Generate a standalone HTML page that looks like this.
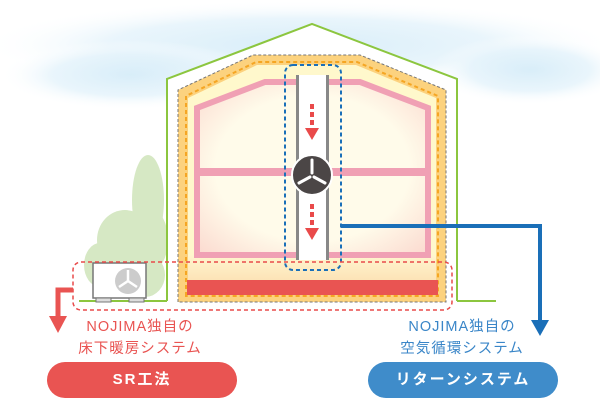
<!DOCTYPE html>
<html><head><meta charset="utf-8"><style>
html,body{margin:0;padding:0;background:#fff}
body{width:600px;height:400px;overflow:hidden;position:relative;font-family:"Liberation Sans","Noto Sans CJK JP",sans-serif}
.t{position:absolute;text-align:center;font-size:14.5px;line-height:22px;letter-spacing:1px}
.pill{position:absolute;height:36px;border-radius:18px;color:#fff;font-size:15px;font-weight:bold;text-align:center;line-height:36px;letter-spacing:2px}
</style></head><body>
<svg width="600" height="400" style="position:absolute;left:0;top:0">
<defs>
<radialGradient id="sky" cx="50%" cy="50%" r="50%"><stop offset="0" stop-color="#cfe9f7"/><stop offset="0.6" stop-color="#e4f3fb"/><stop offset="1" stop-color="#fff" stop-opacity="0"/></radialGradient>
<linearGradient id="floor" x1="0" y1="0" x2="0" y2="1"><stop offset="0" stop-color="#fff6cf"/><stop offset="1" stop-color="#fbd8a8"/></linearGradient>
<radialGradient id="room" cx="50%" cy="50%" r="70%"><stop offset="0.6" stop-color="#fffbea"/><stop offset="1" stop-color="#fbd9cf"/></radialGradient>
</defs>
<ellipse cx="300" cy="45" rx="320" ry="45" fill="url(#sky)" opacity="0.8"/>
<ellipse cx="130" cy="75" rx="130" ry="35" fill="url(#sky)" opacity="0.8"/>
<ellipse cx="530" cy="70" rx="100" ry="35" fill="url(#sky)" opacity="0.8"/>
<!-- tree -->
<g fill="#d6e8c4">
<ellipse cx="148" cy="200" rx="16" ry="45"/><ellipse cx="125" cy="240" rx="28" ry="30"/><ellipse cx="152" cy="240" rx="16" ry="30"/><ellipse cx="100" cy="265" rx="16" ry="22"/><ellipse cx="145" cy="275" rx="20" ry="22"/>
</g>
<!-- house outline -->
<polygon points="167,300 167,79 312,24 457,79 457,300" fill="#fff"/>
<polyline points="167,301 167,79 312,24 457,79 457,301" fill="none" stroke="#8cc63f" stroke-width="2"/>
<line x1="79" y1="301" x2="167" y2="301" stroke="#8cc63f" stroke-width="2"/>
<line x1="457" y1="301" x2="496" y2="301" stroke="#8cc63f" stroke-width="2"/>
<!-- insulation -->
<polygon points="178,302 178,90 253,55 360,55 446,90 446,302" fill="#fcd27e" stroke="#777" stroke-width="1" stroke-dasharray="3,2"/>
<polygon points="186,296 186,96 256,62 357,62 438,96 438,296" fill="none" stroke="#f5a623" stroke-width="2" stroke-dasharray="4,3"/>
<polygon points="188,294 188,98 257,65 356,65 436,98 436,294" fill="#fff8cc"/>
<rect x="188" y="255" width="248" height="40" fill="url(#floor)"/>
<!-- pink frame -->
<polygon points="197,255 197,108 265,82 360,82 428,108 428,255" fill="url(#room)" stroke="#f0a0b4" stroke-width="6"/>
<rect x="197" y="168" width="231" height="8" fill="#f0a0b4"/>
<rect x="187" y="280" width="251" height="15" fill="#e95452"/>
<!-- duct -->
<rect x="297" y="75" width="31" height="185" fill="#fff"/>
<rect x="296" y="75" width="3" height="185" fill="#888"/>
<rect x="326" y="75" width="3" height="185" fill="#888"/>
<rect x="285" y="65" width="56" height="205" rx="8" fill="none" stroke="#1a6fb8" stroke-width="2" stroke-dasharray="4,3"/>
<g stroke="#e94a4a" stroke-width="4" stroke-dasharray="5,3"><line x1="312" y1="104" x2="312" y2="128"/><line x1="312" y1="204" x2="312" y2="228"/></g>
<polygon points="305,128 319,128 312,140" fill="#e94a4a"/>
<polygon points="305,228 319,228 312,240" fill="#e94a4a"/>
<circle cx="312" cy="175" r="20" fill="#4b4646" stroke="#fff" stroke-width="2"/>
<g stroke="#fff" stroke-width="3" stroke-linecap="round"><line x1="312" y1="173" x2="312" y2="160"/><line x1="310" y1="177" x2="299" y2="183"/><line x1="314" y1="177" x2="325" y2="183"/></g>
<!-- blue line -->
<polyline points="341,226 540,226 540,322" fill="none" stroke="#1a6fb8" stroke-width="4"/>
<polygon points="531,320 549,320 540,336" fill="#1a6fb8"/>
<!-- AC -->
<rect x="93" y="263" width="53" height="35" fill="#fff" stroke="#777" stroke-width="1.5"/>
<rect x="96" y="298" width="15" height="4" fill="#ddd" stroke="#777"/><rect x="129" y="298" width="15" height="4" fill="#ddd" stroke="#777"/>
<circle cx="128" cy="281" r="13" fill="#ccc"/>
<g stroke="#fff" stroke-width="2.5"><line x1="128" y1="281" x2="128" y2="270"/><line x1="128" y1="281" x2="119" y2="287"/><line x1="128" y1="281" x2="137" y2="287"/></g>
<!-- red dashed box -->
<rect x="73" y="262" width="379" height="48" rx="8" fill="none" stroke="#e94a4a" stroke-width="1.5" stroke-dasharray="4,3"/>
<polyline points="73,290 58,290 58,318" fill="none" stroke="#e95452" stroke-width="5"/>
<polygon points="49,316 67,316 58,333" fill="#e95452"/>
</svg>
<div class="t" style="left:40px;top:316px;width:200px;color:#e95452">NOJIMA独自の<br>床下暖房システム</div>
<div class="t" style="left:362px;top:316px;width:200px;color:#3a86c8">NOJIMA独自の<br>空気循環システム</div>
<div class="pill" style="left:47px;top:362px;width:190px;background:#e95452">SR工法</div>
<div class="pill" style="left:368px;top:362px;width:190px;background:#3f8cca">リターンシステム</div>
</body></html>
